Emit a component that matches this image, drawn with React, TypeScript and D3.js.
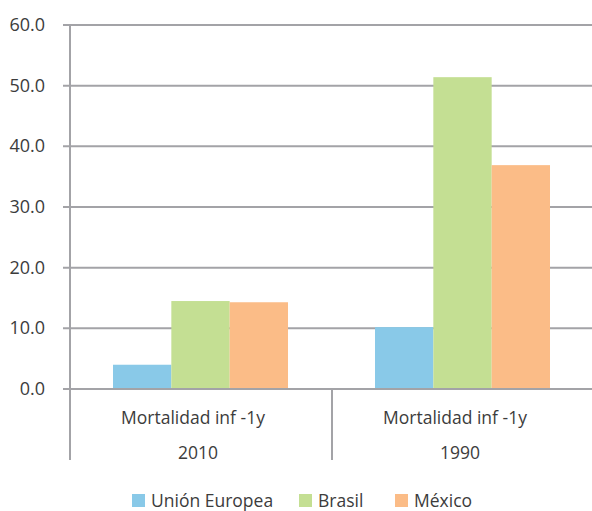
import React from "react";
import * as d3 from "d3";

const categories = ["Mortalidad inf -1y|2010", "Mortalidad inf -1y|1990"];
const seriesNames = ["Unión Europea", "Brasil", "México"];
const seriesColors = ["#89C9E8", "#C4DF93", "#FBBC87"];
const unionEuropea = [4.0, 10.2];
const brasil = [14.5, 51.4];
const mexico = [14.3, 36.9];
const yTicks = [0, 10, 20, 30, 40, 50, 60];

export default function App() {
  const W = 592, H = 511;
  const left = 70, top = 25, bottom = 389;
  const step = 262;
  const y = d3.scaleLinear().domain([0, 60]).range([bottom, top]);
  const x = d3.scaleBand().domain(categories).range([left, left + 2 * step]).paddingInner(0).paddingOuter(0);
  const inner = d3.scaleBand().domain(seriesNames).range([43, 43 + 175]).paddingInner(0).paddingOuter(0);
  const values = [unionEuropea, brasil, mexico];
  const font = "'Open Sans', 'Noto Sans', sans-serif";
  const textColor = "#3C3C3C";
  const gridColor = "#A3A3A7";
  const legendX = [132, 299, 395];
  return (
    <svg width={W} height={H} style={{ position: "absolute", left: 0, top: 0 }} fontFamily={font}>
      {yTicks.map((t) => (
        <g key={t}>
          <line x1={63} x2={W} y1={y(t)} y2={y(t)} stroke={gridColor} strokeWidth={2} />
          <text x={45} y={y(t) + 6} textAnchor="end" fontSize={18} fill={textColor}>
            {t.toFixed(1)}
          </text>
        </g>
      ))}
      {categories.map((c, ci) =>
        seriesNames.map((s, si) => {
          const v = values[si][ci];
          const bx = (x(c) as number) + (inner(s) as number);
          return (
            <rect key={c + s} x={bx} y={y(v)} width={inner.bandwidth()} height={y(0) - y(v)} fill={seriesColors[si]} />
          );
        })
      )}
      <line x1={left} x2={left} y1={top} y2={460} stroke={gridColor} strokeWidth={2} />
      <line x1={x(categories[1]) as number} x2={x(categories[1]) as number} y1={bottom} y2={460} stroke={gridColor} strokeWidth={2} />
      <line x1={63} x2={W} y1={y(0)} y2={y(0)} stroke={gridColor} strokeWidth={2} />
      {categories.map((c) => {
        const [l1, l2] = c.split("|");
        const cx = (x(c) as number) + x.bandwidth() / 2;
        return (
          <g key={c}>
            <text x={cx - 8} y={424} textAnchor="middle" fontSize={17.5} fill={textColor}>{l1}</text>
            <text x={cx - 3} y={459} textAnchor="middle" fontSize={17.5} fill={textColor}>{l2}</text>
          </g>
        );
      })}
      {seriesNames.map((s, i) => (
        <g key={s}>
          <rect x={legendX[i]} y={494} width={13} height={13} fill={seriesColors[i]} />
          <text x={legendX[i] + 19} y={506.5} fontSize={17.5} fill={textColor}>{s}</text>
        </g>
      ))}
    </svg>
  );
}
